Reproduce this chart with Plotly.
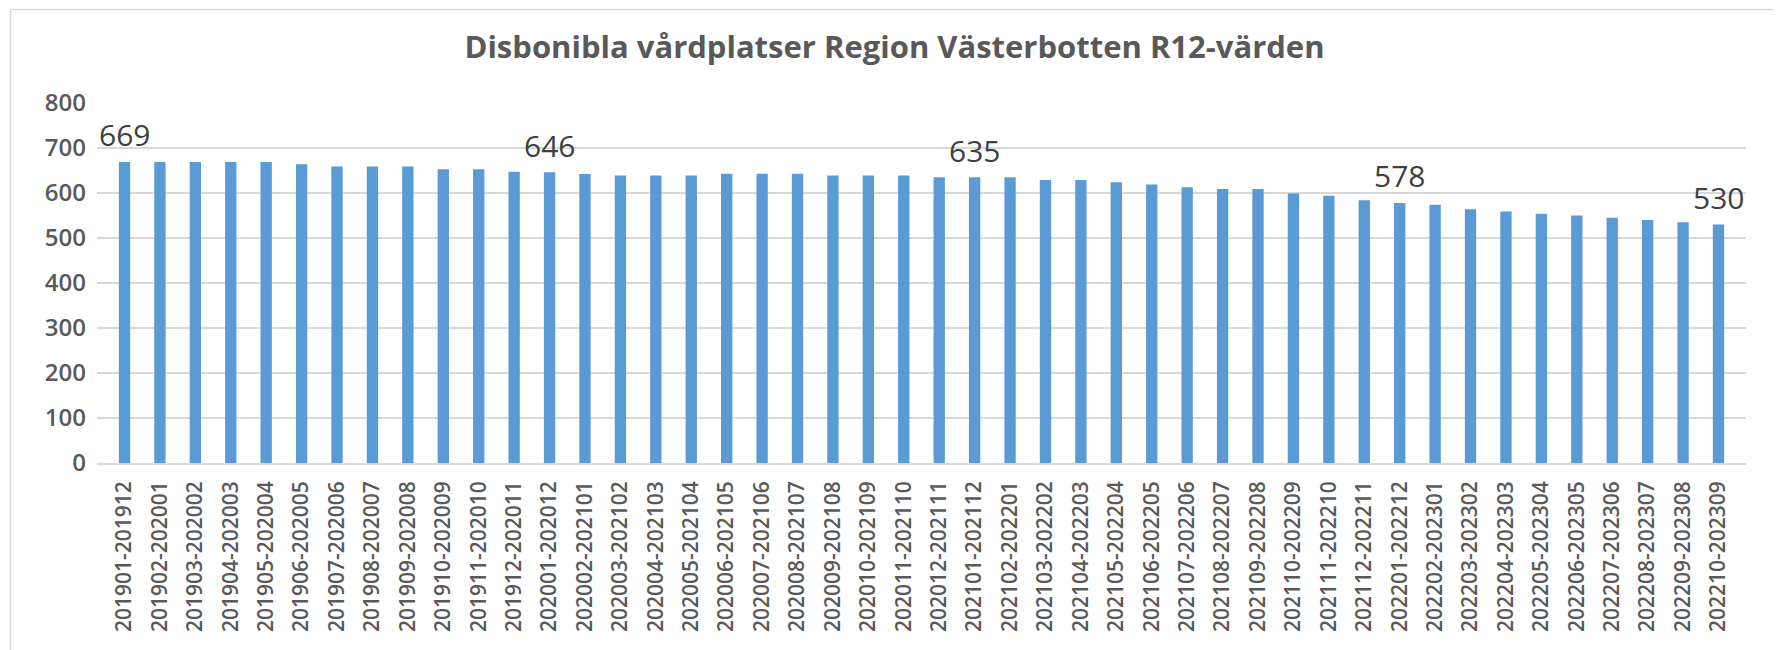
import plotly.graph_objects as go

categories = [
    "201901-201912", "201902-202001", "201903-202002", "201904-202003", "201905-202004",
    "201906-202005", "201907-202006", "201908-202007", "201909-202008", "201910-202009",
    "201911-202010", "201912-202011", "202001-202012", "202002-202101", "202003-202102",
    "202004-202103", "202005-202104", "202006-202105", "202007-202106", "202008-202107",
    "202009-202108", "202010-202109", "202011-202110", "202012-202111", "202101-202112",
    "202102-202201", "202103-202202", "202104-202203", "202105-202204", "202106-202205",
    "202107-202206", "202108-202207", "202109-202208", "202110-202209", "202111-202210",
    "202112-202211", "202201-202212", "202202-202301", "202203-202302", "202204-202303",
    "202205-202304", "202206-202305", "202207-202306", "202208-202307", "202209-202308",
    "202210-202309",
]
values = [
    669, 669, 669, 669, 669, 664, 659, 659, 659, 653,
    653, 647, 646, 642, 639, 639, 639, 643, 643, 643,
    639, 639, 639, 635, 635, 635, 629, 629, 624, 619,
    613, 609, 609, 599, 594, 584, 578, 574, 564, 559,
    554, 550, 545, 540, 535, 530,
]
labeled_indices = [0, 12, 24, 36, 45]
y_ticks = [0, 100, 200, 300, 400, 500, 600, 700, 800]
title_text = "Disbonibla vårdplatser Region Västerbotten R12-värden"

# page body has an 8px margin; figure coordinates = viewport - 8
OFF = 8
W, H = 1781 - OFF, 650 - OFF
plot_left, plot_right = 96.5 - OFF, 1746 - OFF
plot_top, plot_bottom = 102.5 - OFF, 463.5 - OFF
L, R, T, B = plot_left, W - plot_right, plot_top, H - plot_bottom
plot_w = plot_right - plot_left
plot_h = plot_bottom - plot_top

def px_x(p):
    return (p - L) / plot_w

def px_y(p):
    return (plot_bottom - p) / plot_h

fig = go.Figure()
fig.add_trace(go.Bar(
    x=categories, y=values,
    marker=dict(color="#5b9bd5", line=dict(width=0)),
    hoverinfo="x+y",
))

for i in labeled_indices:
    fig.add_annotation(
        x=categories[i], y=values[i], text=str(values[i]),
        showarrow=False, yanchor="middle", yshift=27,
        font=dict(family="Open Sans", size=30, color="#404040"),
    )

fig.add_shape(
    type="rect", xref="paper", yref="paper",
    x0=px_x(10 - OFF), x1=px_x(1777 - OFF), y0=px_y(700), y1=px_y(0.75),
    line=dict(color="#d9d9d9", width=1.5), fillcolor="rgba(0,0,0,0)", layer="below",
)

fig.update_layout(
    width=W, height=H,
    margin=dict(l=L, r=R, t=T, b=B, pad=0),
    paper_bgcolor="white", plot_bgcolor="white",
    bargap=0.68,
    showlegend=False,
    title=dict(
        text=title_text, x=0.5, xanchor="center", xref="container",
        y=1 - (47 - OFF) / H, yanchor="middle", yref="container",
        font=dict(family="Open Sans", size=31, color="#595959", weight=700),
    ),
    xaxis=dict(
        type="category", tickangle=-90, showgrid=False,
        showline=True, linecolor="#d9d9d9", linewidth=1.5,
        ticks="", ticklabelstandoff=8,
        tickfont=dict(family="Open Sans", size=21, color="#595959", weight=600),
    ),
    yaxis=dict(
        range=[0, 800], tickvals=y_ticks, ticktext=[str(v) for v in y_ticks],
        showgrid=True, gridcolor="#d9d9d9", gridwidth=1.5,
        zeroline=False, showline=False, ticks="", ticklabelstandoff=10,
        tickfont=dict(family="Open Sans", size=24, color="#595959", weight=600),
    ),
)

fig.write_html("out.html")
